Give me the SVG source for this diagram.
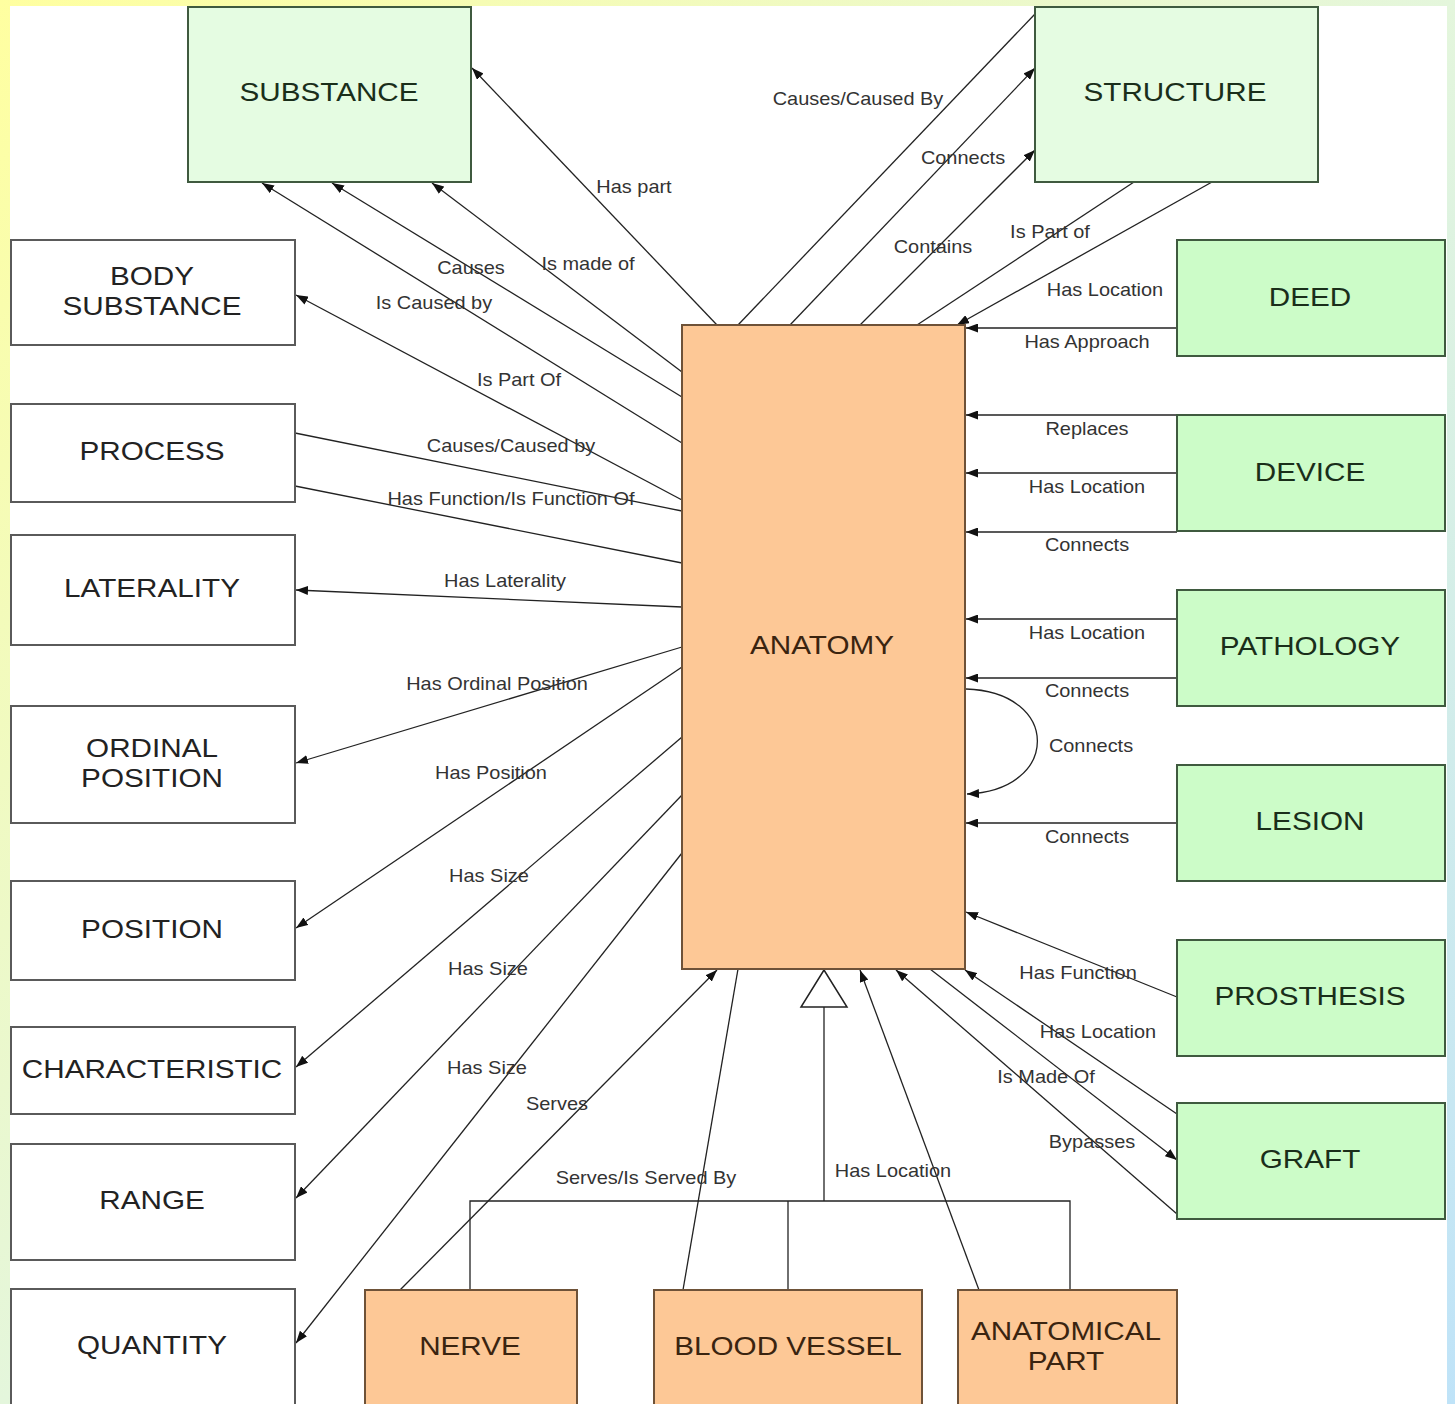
<svg xmlns="http://www.w3.org/2000/svg" width="1455" height="1404" viewBox="0 0 1455 1404">
<defs>
<linearGradient id="bg" x1="0" y1="0" x2="1" y2="1">
<stop offset="0" stop-color="#ffffa0"/>
<stop offset="0.5" stop-color="#e4f6dc"/>
<stop offset="1" stop-color="#bfe3f8"/>
</linearGradient>
<marker id="ah" viewBox="0 0 12 9" refX="12" refY="4.5" markerWidth="12" markerHeight="9" markerUnits="userSpaceOnUse" orient="auto">
<path d="M0,0 L12,4.5 L0,9 z" fill="#111"/>
</marker>
<style>
.n-white{fill:#ffffff;stroke:#5a5a5a;stroke-width:2}
.n-lg{fill:#e5fce2;stroke:#3f5a3f;stroke-width:2}
.n-g{fill:#ccfcc8;stroke:#3f5a3f;stroke-width:2}
.n-o{fill:#fdc896;stroke:#6e5238;stroke-width:2}
.nl{font-family:"Liberation Sans",Arial,sans-serif;font-size:26.5px;text-anchor:middle;fill:#222}
.nlg{fill:#1a2e1a}
.nlo{fill:#3a2410}
.el{font-family:"Liberation Sans",Arial,sans-serif;font-size:17.5px;text-anchor:middle;fill:#333}
.c{fill:none;stroke:#222;stroke-width:1.3}
.ca{fill:none;stroke:#222;stroke-width:1.3;marker-end:url(#ah)}
.tri{fill:#ffffff;stroke:#222;stroke-width:1.5}
</style>
</defs>
<rect x="0" y="0" width="1455" height="1404" fill="url(#bg)"/>
<rect x="10" y="6" width="1437" height="1398" fill="#ffffff"/>

<g id="connectors">
<!-- to SUBSTANCE -->
<line class="ca" x1="717" y1="325" x2="472" y2="68"/>
<line class="ca" x1="682" y1="372" x2="432" y2="183"/>
<line class="ca" x1="682" y1="397" x2="332" y2="183"/>
<line class="ca" x1="682" y1="443" x2="262" y2="183"/>
<line class="ca" x1="682" y1="500" x2="296" y2="295"/>
<!-- STRUCTURE -->
<line class="c" x1="738" y1="325" x2="1035" y2="14"/>
<line class="ca" x1="790" y1="325" x2="1035" y2="68"/>
<line class="ca" x1="860" y1="325" x2="1035" y2="150"/>
<line class="c" x1="917" y1="325" x2="1134" y2="182"/>
<line class="ca" x1="1212" y1="182" x2="957" y2="325"/>
<!-- left side -->
<line class="c" x1="295" y1="433" x2="682" y2="511"/>
<line class="c" x1="295" y1="486" x2="682" y2="563"/>
<line class="ca" x1="682" y1="607" x2="296" y2="590"/>
<line class="ca" x1="682" y1="647" x2="296" y2="763"/>
<line class="ca" x1="682" y1="667" x2="296" y2="928"/>
<line class="ca" x1="682" y1="737" x2="296" y2="1067"/>
<line class="ca" x1="682" y1="795" x2="296" y2="1198"/>
<line class="ca" x1="682" y1="853" x2="296" y2="1343"/>
<!-- right side -->
<line class="ca" x1="1177" y1="328" x2="966" y2="328"/>
<line class="ca" x1="1177" y1="415" x2="966" y2="415"/>
<line class="ca" x1="1177" y1="473" x2="966" y2="473"/>
<line class="ca" x1="1177" y1="532" x2="966" y2="532"/>
<line class="ca" x1="1177" y1="619" x2="966" y2="619"/>
<line class="ca" x1="1177" y1="678" x2="966" y2="678"/>
<path class="ca" d="M966,689 C1061,692 1061,790 967,794"/>
<line class="ca" x1="1177" y1="823" x2="966" y2="823"/>
<line class="ca" x1="1177" y1="997" x2="966" y2="912"/>
<line class="ca" x1="1177" y1="1114" x2="965" y2="970"/>
<line class="ca" x1="930" y1="969" x2="1177" y2="1160"/>
<line class="ca" x1="1177" y1="1214" x2="896" y2="970"/>
<!-- bottom -->
<line class="ca" x1="400" y1="1290" x2="717" y2="970"/>
<line class="c" x1="683" y1="1290" x2="738" y2="969"/>
<line class="ca" x1="979" y1="1290" x2="860" y2="970"/>
<polyline class="c" points="824,1007 824,1201"/>
<polyline class="c" points="470,1290 470,1201 1070,1201 1070,1290"/>
<line class="c" x1="788" y1="1201" x2="788" y2="1290"/>
<polygon class="tri" points="824,970 801,1007 847,1007"/>

<!-- labels -->
<text class="el" transform="translate(634,193) scale(1.14,1)">Has part</text>
<text class="el" transform="translate(858,105) scale(1.14,1)">Causes/Caused By</text>
<text class="el" transform="translate(963,164) scale(1.14,1)">Connects</text>
<text class="el" transform="translate(933,253) scale(1.14,1)">Contains</text>
<text class="el" transform="translate(1050,238) scale(1.14,1)">Is Part of</text>
<text class="el" transform="translate(1105,296) scale(1.14,1)">Has Location</text>
<text class="el" transform="translate(1087,348) scale(1.14,1)">Has Approach</text>
<text class="el" transform="translate(588,270) scale(1.14,1)">Is made of</text>
<text class="el" transform="translate(471,274) scale(1.14,1)">Causes</text>
<text class="el" transform="translate(434,309) scale(1.14,1)">Is Caused by</text>
<text class="el" transform="translate(519,386) scale(1.14,1)">Is Part Of</text>
<text class="el" transform="translate(511,452) scale(1.14,1)">Causes/Caused by</text>
<text class="el" transform="translate(511,505) scale(1.14,1)">Has Function/Is Function Of</text>
<text class="el" transform="translate(505,587) scale(1.14,1)">Has Laterality</text>
<text class="el" transform="translate(497,690) scale(1.14,1)">Has Ordinal Position</text>
<text class="el" transform="translate(491,779) scale(1.14,1)">Has Position</text>
<text class="el" transform="translate(489,882) scale(1.14,1)">Has Size</text>
<text class="el" transform="translate(488,975) scale(1.14,1)">Has Size</text>
<text class="el" transform="translate(487,1074) scale(1.14,1)">Has Size</text>
<text class="el" transform="translate(557,1110) scale(1.14,1)">Serves</text>
<text class="el" transform="translate(646,1184) scale(1.14,1)">Serves/Is Served By</text>
<text class="el" transform="translate(893,1177) scale(1.14,1)">Has Location</text>
<text class="el" transform="translate(1087,435) scale(1.14,1)">Replaces</text>
<text class="el" transform="translate(1087,493) scale(1.14,1)">Has Location</text>
<text class="el" transform="translate(1087,551) scale(1.14,1)">Connects</text>
<text class="el" transform="translate(1087,639) scale(1.14,1)">Has Location</text>
<text class="el" transform="translate(1087,697) scale(1.14,1)">Connects</text>
<text class="el" transform="translate(1091,752) scale(1.14,1)">Connects</text>
<text class="el" transform="translate(1087,843) scale(1.14,1)">Connects</text>
<text class="el" transform="translate(1078,979) scale(1.14,1)">Has Function</text>
<text class="el" transform="translate(1098,1038) scale(1.14,1)">Has Location</text>
<text class="el" transform="translate(1046,1083) scale(1.14,1)">Is Made Of</text>
<text class="el" transform="translate(1092,1148) scale(1.14,1)">Bypasses</text>
</g>

<g id="substance"><rect class="n-lg" x="188" y="7" width="283" height="175"/><text class="nl nlg" transform="translate(329,101) scale(1.12,1)">SUBSTANCE</text></g>
<g id="structure"><rect class="n-lg" x="1035" y="7" width="283" height="175"/><text class="nl nlg" transform="translate(1175,101) scale(1.12,1)">STRUCTURE</text></g>
<g id="body-substance"><rect class="n-white" x="11" y="240" width="284" height="105"/><text class="nl" transform="translate(152,285) scale(1.12,1)">BODY</text><text class="nl" transform="translate(152,315) scale(1.12,1)">SUBSTANCE</text></g>
<g id="process"><rect class="n-white" x="11" y="404" width="284" height="98"/><text class="nl" transform="translate(152,460) scale(1.12,1)">PROCESS</text></g>
<g id="laterality"><rect class="n-white" x="11" y="535" width="284" height="110"/><text class="nl" transform="translate(152,597) scale(1.12,1)">LATERALITY</text></g>
<g id="ordinal-position"><rect class="n-white" x="11" y="706" width="284" height="117"/><text class="nl" transform="translate(152,757) scale(1.12,1)">ORDINAL</text><text class="nl" transform="translate(152,787) scale(1.12,1)">POSITION</text></g>
<g id="position"><rect class="n-white" x="11" y="881" width="284" height="99"/><text class="nl" transform="translate(152,938) scale(1.12,1)">POSITION</text></g>
<g id="characteristic"><rect class="n-white" x="11" y="1027" width="284" height="87"/><text class="nl" transform="translate(152,1078) scale(1.12,1)">CHARACTERISTIC</text></g>
<g id="range"><rect class="n-white" x="11" y="1144" width="284" height="116"/><text class="nl" transform="translate(152,1209) scale(1.12,1)">RANGE</text></g>
<g id="quantity"><rect class="n-white" x="11" y="1289" width="284" height="130"/><text class="nl" transform="translate(152,1354) scale(1.12,1)">QUANTITY</text></g>
<g id="anatomy"><rect class="n-o" x="682" y="325" width="283" height="644"/><text class="nl nlo" transform="translate(822,654) scale(1.12,1)">ANATOMY</text></g>
<g id="deed"><rect class="n-g" x="1177" y="240" width="268" height="116"/><text class="nl nlg" transform="translate(1310,306) scale(1.12,1)">DEED</text></g>
<g id="device"><rect class="n-g" x="1177" y="415" width="268" height="116"/><text class="nl nlg" transform="translate(1310,481) scale(1.12,1)">DEVICE</text></g>
<g id="pathology"><rect class="n-g" x="1177" y="590" width="268" height="116"/><text class="nl nlg" transform="translate(1310,655) scale(1.12,1)">PATHOLOGY</text></g>
<g id="lesion"><rect class="n-g" x="1177" y="765" width="268" height="116"/><text class="nl nlg" transform="translate(1310,830) scale(1.12,1)">LESION</text></g>
<g id="prosthesis"><rect class="n-g" x="1177" y="940" width="268" height="116"/><text class="nl nlg" transform="translate(1310,1005) scale(1.12,1)">PROSTHESIS</text></g>
<g id="graft"><rect class="n-g" x="1177" y="1103" width="268" height="116"/><text class="nl nlg" transform="translate(1310,1168) scale(1.12,1)">GRAFT</text></g>
<g id="nerve"><rect class="n-o" x="365" y="1290" width="212" height="130"/><text class="nl nlo" transform="translate(470,1355) scale(1.12,1)">NERVE</text></g>
<g id="blood-vessel"><rect class="n-o" x="654" y="1290" width="268" height="130"/><text class="nl nlo" transform="translate(788,1355) scale(1.12,1)">BLOOD VESSEL</text></g>
<g id="anatomical-part"><rect class="n-o" x="958" y="1290" width="219" height="130"/><text class="nl nlo" transform="translate(1066,1340) scale(1.12,1)">ANATOMICAL</text><text class="nl nlo" transform="translate(1066,1370) scale(1.12,1)">PART</text></g>
</svg>
